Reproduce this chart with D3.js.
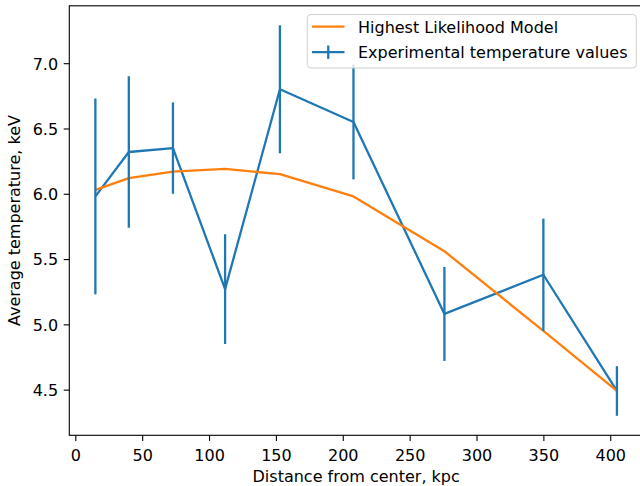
<!DOCTYPE html>
<html>
<head>
<meta charset="utf-8">
<script src="https://cdn.jsdelivr.net/npm/d3@7"></script>
<style>
  html, body { margin: 0; padding: 0; background: #fff; overflow: hidden; }
  svg { display: block; font-family: "DejaVu Sans", sans-serif; }
</style>
</head>
<body>
<svg id="chart" width="640" height="486"></svg>
<script>
// Radial temperature profile: measured values with 1-sigma errors, plus best-fit model
const distanceKpc = [15, 40, 73, 112, 153, 208, 276, 350, 405];
const tempKeV     = [5.98, 6.32, 6.35, 5.27, 6.80, 6.55, 5.08, 5.38, 4.49];
const tempErrKeV  = [0.75, 0.58, 0.35, 0.42, 0.49, 0.44, 0.36, 0.43, 0.19];
const modelKeV    = [6.03, 6.12, 6.17, 6.19, 6.15, 5.98, 5.56, 4.95, 4.49];
const xTicks = [0, 50, 100, 150, 200, 250, 300, 350, 400];
const yTicks = [4.5, 5.0, 5.5, 6.0, 6.5, 7.0];

const seriesLabels = ["Highest Likelihood Model", "Experimental temperature values"];
const BLUE = "#1f77b4", ORANGE = "#ff7f0e";

const plot = { left: 69.3, right: 643, top: 5.8, bottom: 435.3 };
const FS = 16;

const svg = d3.select("#chart");

// autoscale with 5% padding, as a typical plotting default
function padded(lo, hi) { const p = (hi - lo) * 0.05; return [lo - p, hi + p]; }
const xDom = padded(d3.min(distanceKpc), d3.max(distanceKpc));
const yDom = padded(
  d3.min(tempKeV, (v, i) => v - tempErrKeV[i]),
  d3.max(tempKeV, (v, i) => v + tempErrKeV[i])
);

const x = d3.scaleLinear().domain(xDom).range([plot.left, plot.right]);
const y = d3.scaleLinear().domain(yDom).range([plot.bottom, plot.top]);

const pts = distanceKpc.map((d, i) => ({ d, t: tempKeV[i], e: tempErrKeV[i], m: modelKeV[i] }));

const lw = 2.3;
const gData = svg.append("g");

// measured profile line
gData.append("path")
  .datum(pts)
  .attr("fill", "none").attr("stroke", BLUE).attr("stroke-width", lw)
  .attr("stroke-linejoin", "round")
  .attr("d", d3.line().x(p => x(p.d)).y(p => y(p.t)));

// model line
gData.append("path")
  .datum(pts)
  .attr("fill", "none").attr("stroke", ORANGE).attr("stroke-width", lw)
  .attr("stroke-linejoin", "round")
  .attr("d", d3.line().x(p => x(p.d)).y(p => y(p.m)));

// vertical error bars
gData.selectAll("line.err").data(pts).join("line")
  .attr("class", "err")
  .attr("x1", p => x(p.d)).attr("x2", p => x(p.d))
  .attr("y1", p => y(p.t - p.e)).attr("y2", p => y(p.t + p.e))
  .attr("stroke", BLUE).attr("stroke-width", lw);

// axes
const tickLen = 5.6;
const xAxis = svg.append("g")
  .attr("transform", `translate(0,${plot.bottom})`)
  .call(d3.axisBottom(x).tickValues(xTicks).tickFormat(d3.format("d"))
        .tickSizeInner(tickLen).tickSizeOuter(0).tickPadding(5.6));
const yAxis = svg.append("g")
  .attr("transform", `translate(${plot.left},0)`)
  .call(d3.axisLeft(y).tickValues(yTicks).tickFormat(d3.format(".1f"))
        .tickSizeInner(tickLen).tickSizeOuter(0).tickPadding(5.6));

[xAxis, yAxis].forEach(g => {
  g.select(".domain").remove();
  g.selectAll(".tick line").attr("stroke", "#000").attr("stroke-width", 1.1);
  g.selectAll(".tick text").attr("fill", "#000").style("font-size", FS + "px")
    .style("font-family", "DejaVu Sans, sans-serif");
});
xAxis.selectAll(".tick text").attr("dy", null).attr("y", 25.3);
yAxis.selectAll(".tick text").attr("dy", null).attr("dominant-baseline", null).attr("y", 5.8);

// frame (spines)
svg.append("rect")
  .attr("x", plot.left).attr("y", plot.top)
  .attr("width", plot.right - plot.left).attr("height", plot.bottom - plot.top)
  .attr("fill", "none").attr("stroke", "#000").attr("stroke-width", 1.1);

// axis titles
svg.append("text")
  .attr("x", (plot.left + plot.right) / 2).attr("y", 482)
  .attr("text-anchor", "middle").style("font-size", FS + "px").attr("fill", "#000")
  .text("Distance from center, kpc");
svg.append("text")
  .attr("transform", `translate(20,${(plot.top + plot.bottom) / 2}) rotate(-90)`)
  .attr("text-anchor", "middle").style("font-size", FS + "px").attr("fill", "#000")
  .text("Average temperature, keV");

// legend
const leg = svg.append("g");
const box = { x: 307.3, y: 14.5, w: 329, h: 53.5 };
leg.append("rect")
  .attr("x", box.x).attr("y", box.y).attr("width", box.w).attr("height", box.h)
  .attr("rx", 3.5).attr("ry", 3.5)
  .attr("fill", "#fff").attr("fill-opacity", 0.8)
  .attr("stroke", "#d0d0d0").attr("stroke-width", 1);

const rowY = [26.7, 52.2];
const hx0 = 312, hx1 = 344.5, tx = 358;
// model entry
leg.append("line").attr("x1", hx0).attr("x2", hx1).attr("y1", rowY[0]).attr("y2", rowY[0])
  .attr("stroke", ORANGE).attr("stroke-width", lw);
// measured entry with error bar glyph
leg.append("line").attr("x1", hx0).attr("x2", hx1).attr("y1", rowY[1]).attr("y2", rowY[1])
  .attr("stroke", BLUE).attr("stroke-width", lw);
leg.append("line").attr("x1", (hx0 + hx1) / 2).attr("x2", (hx0 + hx1) / 2)
  .attr("y1", rowY[1] - 6.7).attr("y2", rowY[1] + 6.7)
  .attr("stroke", BLUE).attr("stroke-width", lw);

leg.selectAll("text.lbl").data(seriesLabels).join("text")
  .attr("class", "lbl")
  .attr("x", tx).attr("y", (d, i) => rowY[i] + 5.8)
  .style("font-size", FS + "px").attr("fill", "#000")
  .text(d => d);
</script>
</body>
</html>
